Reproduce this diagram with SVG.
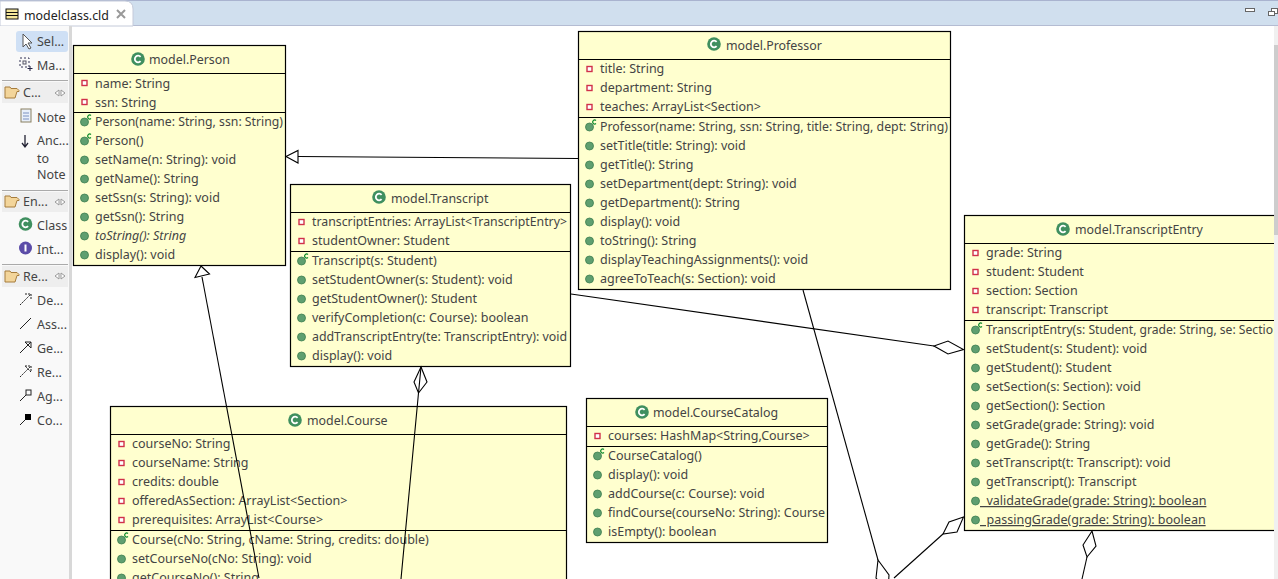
<svg xmlns="http://www.w3.org/2000/svg" width="1278" height="579" viewBox="0 0 1278 579">
<style>
text{font-family:"Noto Sans","Liberation Sans",sans-serif;font-size:12.5px;fill:#444}
.box{fill:#ffffcf;stroke:#000;stroke-width:1.2}
.sep{stroke:#000;stroke-width:1.2}
.ln{fill:none;stroke:#000;stroke-width:1.1}
.hd{fill:#fff;stroke:#000;stroke-width:1.1}
.pal{fill:#eeeeee}
.ic{fill:none;stroke:#222;stroke-width:1}
.ttl{font-size:12.4px}
</style>
<defs>
<g id="m"><circle r="4" fill="#5f9f70" stroke="#3f7f50" stroke-width=".8"/></g>
<g id="k"><circle r="4" fill="#5f9f70" stroke="#3f7f50" stroke-width=".8"/><path d="M6.500-6.500a2 2 0 1 0 0 3" fill="none" stroke="#0a8a2a" stroke-width="1.2"/></g>
<g id="a"><rect x="-2.5" y="-2.5" width="5" height="5" fill="#fff" stroke="#d0304a" stroke-width="1.4"/></g>
<g id="c"><circle r="6.8" fill="#3f8f5f"/><path d="M2.600-2.200a3.300 3.300 0 1 0 0 4.400" fill="none" stroke="#fff" stroke-width="1.8"/></g>
<g id="f"><path d="M0 2h5l1 1.500h6l2 2v1h-2l-2 6.500h-10z" fill="#f3d59a" stroke="#a67c3c"/></g>
</defs>

<rect width="1278" height="579" fill="#fff"/>
<g id="editor-tabs">
<rect x="0" y="0" width="1278" height="26" fill="#d0dfee"/>
<rect x="0" y="0" width="1278" height="1" fill="#a9b3cf"/>
<rect x="0" y="25" width="1278" height="1" fill="#b4bcd2"/>
<path d="M0 26V1H125q8 0 8 8V26z" fill="#fff" stroke="#c4cad9"/>
<rect x="6" y="9" width="12" height="10" fill="#f5e79a" stroke="#111"/><path d="M6 12.500h12M6 15.500h12" stroke="#111"/>
<text x="24" y="20" style="font-size:12.4px;fill:#222">modelclass.cld</text>
<path d="M117 10l8 8m0-8l-8 8" stroke="#999" stroke-width="2" fill="none"/>
<rect x="1245.500" y="8.500" width="9" height="3" fill="#fff" stroke="#666"/>
<rect x="1271.500" y="8.500" width="6" height="5" fill="#fff" stroke="#666"/><rect x="1268.500" y="11.500" width="6" height="4" fill="#fff" stroke="#666"/>
</g>
<g id="palette">
<rect x="0" y="26" width="69" height="553" fill="#f9f9f9"/>
<rect x="69" y="26" width="3" height="553" fill="#d8d8d8"/>
<rect x="16" y="31" width="52" height="21" rx="3" fill="#cfe0f5"/>
<path d="M23 34v13l3-3 3 5 2-1-3-5h4z" fill="#fff" stroke="#555"/>
<text x="37" y="46">Sel...</text>
<rect x="20" y="58" width="9" height="9" fill="none" stroke="#335" stroke-dasharray="2 2"/>
<rect x="23" y="61" width="3" height="3" fill="none" stroke="#556"/>
<path d="M30 66v5m-2.500-2.500h5" stroke="#224"/>
<text x="37" y="70">Ma...</text>
<rect x="2" y="80" width="66" height="1" fill="#aaa"/>
<rect x="2" y="82" width="66" height="21" class="pal"/>
<use href="#f" x="5" y="85"/>
<text x="23" y="97">C...</text>
<path d="M55 93l4-3v6zM65 93l-4-3v6z" fill="#fff" stroke="#999"/>
<rect x="21" y="109" width="10" height="13" fill="#e8effa" stroke="#8a8060"/>
<path d="M23 113h6M23 116h6M23 119h6" stroke="#7a90c0"/>
<text x="37" y="122">Note</text>
<path d="M25 135v12m-3-4l3 4 3-4" stroke="#223" fill="none" stroke-width="1.3"/>
<text x="37" y="145">Anc...</text><text x="37" y="163">to</text><text x="37" y="179">Note</text>
<rect x="2" y="190" width="66" height="1" fill="#aaa"/>
<rect x="2" y="192" width="66" height="20" class="pal"/>
<use href="#f" x="5" y="194"/>
<text x="23" y="206">En...</text>
<path d="M55 202l4-3v6zM65 202l-4-3v6z" fill="#fff" stroke="#999"/>
<use href="#c" x="25.500" y="224"/>
<text x="37" y="230">Class</text>
<circle cx="25.500" cy="248" r="6.500" fill="#5b4ca8"/><path d="M25.500 244.500v7" stroke="#fff" stroke-width="2"/>
<text x="37" y="254">Int...</text>
<rect x="2" y="264" width="66" height="1" fill="#aaa"/>
<rect x="2" y="266" width="66" height="21" class="pal"/>
<use href="#f" x="5" y="269"/>
<text x="23" y="281">Re...</text>
<path d="M55 276l4-3v6zM65 276l-4-3v6z" fill="#fff" stroke="#999"/>
<path d="M20 305l11-11m-6 0h6v6" class="ic" stroke-dasharray="2 1"/><text x="37" y="305">De...</text>
<path d="M20 329l11-11" class="ic"/><text x="37" y="329">Ass...</text>
<path d="M20 353l11-11m-6 0h6v6z" class="ic"/><text x="37" y="353">Ge...</text>
<path d="M20 377l11-11m-6 0h6v6z" class="ic" stroke-dasharray="2 1"/><text x="37" y="377">Re...</text>
<path d="M20 401l6-6" class="ic"/><rect x="26" y="390" width="5" height="5" class="ic"/><text x="37" y="401">Ag...</text>
<path d="M20 425l6-6" class="ic"/><rect x="25" y="414" width="6" height="6" fill="#000"/><text x="37" y="425">Co...</text>
</g>

<g id="node-person">
<rect class="box" x="73.500" y="45.500" width="212" height="220"/>
<path class="sep" d="M73 73.500h212M73 112.500h212"/>
<use href="#c" x="138" y="59"/><text class="ttl" x="149" y="64">model.Person</text>
<use href="#a" x="84.500" y="83"/><text x="95" y="88">name: String</text>
<use href="#a" x="84.500" y="102"/><text x="95" y="107">ssn: String</text>
<use href="#k" x="84.500" y="122"/><text x="95" y="126" textLength="188" lengthAdjust="spacingAndGlyphs">Person(name: String, ssn: String)</text>
<use href="#k" x="84.500" y="141"/><text x="95" y="145">Person()</text>
<use href="#m" x="84.500" y="160"/><text x="95" y="164">setName(n: String): void</text>
<use href="#m" x="84.500" y="179"/><text x="95" y="183">getName(): String</text>
<use href="#m" x="84.500" y="198"/><text x="95" y="202">setSsn(s: String): void</text>
<use href="#m" x="84.500" y="217"/><text x="95" y="221">getSsn(): String</text>
<use href="#m" x="84.500" y="236"/><text x="95" y="240" font-style="italic">toString(): String</text>
<use href="#m" x="84.500" y="255"/><text x="95" y="259">display(): void</text>
</g>

<g id="node-professor">
<rect class="box" x="578.500" y="31.500" width="372" height="258"/>
<path class="sep" d="M578 59.500h372M578 117.500h372"/>
<use href="#c" x="714" y="44"/><text class="ttl" x="726" y="50">model.Professor</text>
<use href="#a" x="589.500" y="69"/><text x="600" y="73">title: String</text>
<use href="#a" x="589.500" y="88"/><text x="600" y="92">department: String</text>
<use href="#a" x="589.500" y="107"/><text x="600" y="111">teaches: ArrayList&lt;Section&gt;</text>
<use href="#k" x="589.500" y="127"/><text x="600" y="131" textLength="348" lengthAdjust="spacingAndGlyphs">Professor(name: String, ssn: String, title: String, dept: String)</text>
<use href="#m" x="589.500" y="146"/><text x="600" y="150">setTitle(title: String): void</text>
<use href="#m" x="589.500" y="165"/><text x="600" y="169">getTitle(): String</text>
<use href="#m" x="589.500" y="184"/><text x="600" y="188">setDepartment(dept: String): void</text>
<use href="#m" x="589.500" y="203"/><text x="600" y="207">getDepartment(): String</text>
<use href="#m" x="589.500" y="222"/><text x="600" y="226">display(): void</text>
<use href="#m" x="589.500" y="241"/><text x="600" y="245">toString(): String</text>
<use href="#m" x="589.500" y="260"/><text x="600" y="264">displayTeachingAssignments(): void</text>
<use href="#m" x="589.500" y="279"/><text x="600" y="283">agreeToTeach(s: Section): void</text>
</g>

<g id="node-transcript">
<rect class="box" x="290.500" y="184.500" width="280" height="182"/>
<path class="sep" d="M290 212.500h280M290 251.500h280"/>
<use href="#c" x="379" y="197"/><text class="ttl" x="391" y="203">model.Transcript</text>
<use href="#a" x="301.500" y="222"/><text x="312" y="226" textLength="255" lengthAdjust="spacingAndGlyphs">transcriptEntries: ArrayList&lt;TranscriptEntry&gt;</text>
<use href="#a" x="301.500" y="241"/><text x="312" y="245">studentOwner: Student</text>
<use href="#k" x="301.500" y="261"/><text x="312" y="265">Transcript(s: Student)</text>
<use href="#m" x="301.500" y="280"/><text x="312" y="284">setStudentOwner(s: Student): void</text>
<use href="#m" x="301.500" y="299"/><text x="312" y="303">getStudentOwner(): Student</text>
<use href="#m" x="301.500" y="318"/><text x="312" y="322">verifyCompletion(c: Course): boolean</text>
<use href="#m" x="301.500" y="337"/><text x="312" y="341" textLength="255" lengthAdjust="spacingAndGlyphs">addTranscriptEntry(te: TranscriptEntry): void</text>
<use href="#m" x="301.500" y="356"/><text x="312" y="360">display(): void</text>
</g>

<g id="node-transcriptentry">
<rect class="box" x="964.500" y="215.500" width="320" height="315"/>
<path class="sep" d="M964 243.500h320M964 320.500h320"/>
<use href="#c" x="1063" y="229"/><text class="ttl" x="1075" y="234">model.TranscriptEntry</text>
<use href="#a" x="975.500" y="253"/><text x="986" y="257">grade: String</text>
<use href="#a" x="975.500" y="272"/><text x="986" y="276">student: Student</text>
<use href="#a" x="975.500" y="291"/><text x="986" y="295">section: Section</text>
<use href="#a" x="975.500" y="310"/><text x="986" y="314">transcript: Transcript</text>
<use href="#k" x="975.500" y="330"/><text x="986" y="334" textLength="287" lengthAdjust="spacingAndGlyphs">TranscriptEntry(s: Student, grade: String, se: Sectio</text>
<use href="#m" x="975.500" y="349"/><text x="986" y="353">setStudent(s: Student): void</text>
<use href="#m" x="975.500" y="368"/><text x="986" y="372">getStudent(): Student</text>
<use href="#m" x="975.500" y="387"/><text x="986" y="391">setSection(s: Section): void</text>
<use href="#m" x="975.500" y="406"/><text x="986" y="410">getSection(): Section</text>
<use href="#m" x="975.500" y="425"/><text x="986" y="429">setGrade(grade: String): void</text>
<use href="#m" x="975.500" y="444"/><text x="986" y="448">getGrade(): String</text>
<use href="#m" x="975.500" y="463"/><text x="986" y="467">setTranscript(t: Transcript): void</text>
<use href="#m" x="975.500" y="482"/><text x="986" y="486">getTranscript(): Transcript</text>
<use href="#m" x="975.500" y="501"/><text x="980" y="505" xml:space="preserve" text-decoration="underline">  validateGrade(grade: String): boolean</text>
<use href="#m" x="975.500" y="520"/><text x="980" y="524" xml:space="preserve" text-decoration="underline">  passingGrade(grade: String): boolean</text>
</g>

<g id="node-course">
<rect class="box" x="110.500" y="406.500" width="456" height="200"/>
<path class="sep" d="M110 434.500h456M110 530.500h456"/>
<use href="#c" x="295" y="420"/><text class="ttl" x="307" y="425">model.Course</text>
<use href="#a" x="121.500" y="444"/><text x="132" y="448">courseNo: String</text>
<use href="#a" x="121.500" y="463"/><text x="132" y="467">courseName: String</text>
<use href="#a" x="121.500" y="482"/><text x="132" y="486">credits: double</text>
<use href="#a" x="121.500" y="501"/><text x="132" y="505">offeredAsSection: ArrayList&lt;Section&gt;</text>
<use href="#a" x="121.500" y="520"/><text x="132" y="524">prerequisites: ArrayList&lt;Course&gt;</text>
<use href="#k" x="121.500" y="540"/><text x="132" y="544">Course(cNo: String, cName: String, credits: double)</text>
<use href="#m" x="121.500" y="559"/><text x="132" y="563">setCourseNo(cNo: String): void</text>
<use href="#m" x="121.500" y="578"/><text x="132" y="582">getCourseNo(): String</text>
</g>

<g id="node-coursecatalog">
<rect class="box" x="586.500" y="398.500" width="241" height="144"/>
<path class="sep" d="M586 426.500h241M586 446.500h241"/>
<use href="#c" x="642" y="412"/><text class="ttl" x="653" y="417">model.CourseCatalog</text>
<use href="#a" x="597.500" y="436"/><text x="608" y="440">courses: HashMap&lt;String,Course&gt;</text>
<use href="#k" x="597.500" y="456"/><text x="608" y="460">CourseCatalog()</text>
<use href="#m" x="597.500" y="475"/><text x="608" y="479">display(): void</text>
<use href="#m" x="597.500" y="494"/><text x="608" y="498">addCourse(c: Course): void</text>
<use href="#m" x="597.500" y="513"/><text x="608" y="517" textLength="217" lengthAdjust="spacingAndGlyphs">findCourse(courseNo: String): Course</text>
<use href="#m" x="597.500" y="532"/><text x="608" y="536">isEmpty(): boolean</text>
</g>

<g id="connectors">
<path class="ln" d="M578 158.500L298 156.500"/>
<path class="hd" d="M286 156.500L298 150.500V163z"/>
<path class="ln" d="M202 277L259 578"/>
<path class="hd" d="M201 266L195 277.500L209.500 274z"/>
<path class="ln" d="M571 294L934 346"/>
<path class="hd" d="M934 346L948 341L963.500 349.500L948 354z"/>
<path class="ln" d="M421 367L418.500 393L401 579"/>
<path class="ln" d="M421 367L414 382L418.500 393L427 382z"/>
<path class="ln" d="M803 290L878 560"/>
<path class="hd" d="M878 560L889 575L888 592L876 578z"/>
<path class="ln" d="M943 534L894 578"/>
<path class="hd" d="M963.500 517L949 522L943 534L957 532z"/>
<path class="ln" d="M1087 557L1082 579"/>
<path class="hd" d="M1092 531L1096 546L1087 557L1083 545z"/>
</g>
<g id="scrollbar">
<rect x="1274" y="26" width="4" height="553" fill="#f0f0f0"/>
<rect x="1274" y="45" width="4" height="190" fill="#cdcdcd"/>
</g>
</svg>
